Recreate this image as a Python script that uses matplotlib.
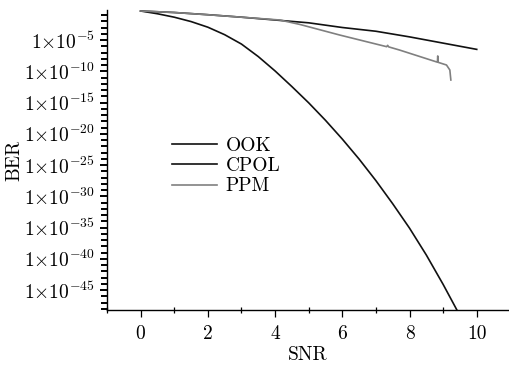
import numpy as np
import matplotlib
matplotlib.use("Agg")
import matplotlib.pyplot as plt
from matplotlib.ticker import FixedLocator, FuncFormatter, MultipleLocator

plt.rcParams['font.family'] = ['cmr10', 'DejaVu Serif']
plt.rcParams['mathtext.fontset'] = 'cm'
plt.rcParams['axes.unicode_minus'] = False
plt.rcParams['font.size'] = 14

# values (BER as log10 exponent)
ook_snr = [0, 1, 2, 3, 4, 5, 6, 7, 8, 9, 10]
ook_exp = [-0.36, -0.6, -0.95, -1.35, -1.8, -2.25, -3.0, -3.6, -4.5, -5.5, -6.5]

cpol_snr = [0, 0.5, 1.0, 1.5, 2.0, 2.5, 3.0, 3.5, 4.0, 4.5, 5.0, 5.5, 6.0,
            6.5, 7.0, 7.5, 8.0, 8.5, 9.0, 9.5]
cpol_exp = [-0.36, -0.8, -1.35, -2.05, -2.95, -4.15, -5.65, -7.65, -9.95, -12.45,
            -15.05, -17.85, -20.85, -24.05, -27.5, -31.2, -35.1, -39.4, -44.1, -49.1]

ppm_snr = [0, 1, 2, 3, 4.14, 4.73, 5.92, 7.32, 7.35, 7.38, 7.7, 8.83, 8.84, 8.85,
           9.1, 9.2, 9.23]
ppm_exp = [-0.36, -0.6, -0.96, -1.35, -1.8, -2.5, -4.2, -6.07, -5.85, -6.1, -6.6,
           -8.55, -7.55, -8.57, -9.0, -9.8, -11.4]

labels = ['OOK', 'CPOL', 'PPM']
colors = ['#111111', '#111111', '#808080']

major_exp = [-5, -10, -15, -20, -25, -30, -35, -40, -45]

fig = plt.figure(figsize=(5.09, 3.66), dpi=100)
ax = fig.add_axes([107 / 509, 56 / 366, 402 / 509, 300 / 366])

for xs, es, lab, c in zip([ook_snr, cpol_snr, ppm_snr],
                          [ook_exp, cpol_exp, ppm_exp], labels, colors):
    ax.plot(xs, 10.0 ** np.array(es), color=c, lw=1.2, label=lab)

ax.set_yscale('log')
ax.set_xlim(-1, 10.96)
ax.set_ylim(10 ** -48.2, 10 ** -0.2)

ax.yaxis.set_major_locator(FixedLocator([10.0 ** e for e in major_exp]))
ax.yaxis.set_minor_locator(FixedLocator([10.0 ** e for e in range(-48, 0)]))
ax.yaxis.set_major_formatter(FuncFormatter(
    lambda v, p: r'$1{\times}10^{%d}$' % int(round(np.log10(v)))))
ax.yaxis.set_minor_formatter(FuncFormatter(lambda v, p: ''))

ax.xaxis.set_major_locator(MultipleLocator(2))
ax.xaxis.set_minor_locator(MultipleLocator(1))

ax.tick_params(axis='y', which='major', direction='out', length=5, width=1.4, pad=4)
ax.tick_params(axis='y', which='minor', direction='out', length=4, width=1.4)
ax.tick_params(axis='x', which='major', direction='out', length=5, width=0.9, pad=6)
ax.tick_params(axis='x', which='minor', direction='inout', length=4, width=0.9)

ax.spines['top'].set_visible(False)
ax.spines['right'].set_visible(False)
ax.spines['left'].set_linewidth(1.0)
ax.spines['bottom'].set_linewidth(1.0)

ax.set_xlabel('SNR', labelpad=2)
ax.set_ylabel('BER', labelpad=0)

ax.legend(loc='upper left', bbox_to_anchor=(172 / 509, 1 - 137 / 366),
          bbox_transform=fig.transFigure, frameon=False, handlelength=2.3,
          handletextpad=0.45, labelspacing=0.12, borderpad=0, borderaxespad=0)

fig.savefig('out.png', dpi=100)
